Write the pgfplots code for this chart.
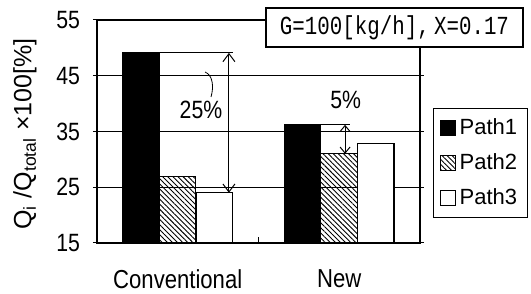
\documentclass[border=0pt]{standalone}
\usepackage{pgfplots}
\pgfplotsset{compat=1.18}
\usepackage{fontspec}
\setmainfont{Liberation Sans}
\newfontfamily\condfont{Liberation Sans}[FakeStretch=0.85]
\newfontfamily\monofont{Liberation Mono}[FakeStretch=0.8]
\usetikzlibrary{patterns.meta,arrows.meta}
\begin{document}
\begin{tikzpicture}
\path[use as bounding box] (0pt,0pt) rectangle (265.5pt,147pt);
\begin{axis}[
  at={(48.5pt,25.5pt)}, anchor=south west,
  scale only axis, width=161.5pt, height=111.5pt,
  xmin=-0.5, xmax=1.5, ymin=15, ymax=55,
  xtick={0,1}, xticklabels={Conventional,New},
  xtick style={draw=none},
  ytick={15,25,35,45,55},
  ymajorgrids, grid style={line width=0.5pt, black},
  axis line style={line width=0.8pt},
  tick align=outside, major tick length=2pt,
  ytick style={line width=0.5pt, black},
  /pgf/number format/assume math mode=true,
  tick label style={font=\condfont\fontsize{12.5}{14}\selectfont},
  yticklabel style={xshift=-3pt},
  xticklabel style={yshift=-8pt, font=\condfont\fontsize{13}{14}\selectfont},
  ylabel={Q\textsubscript{i} /Q\textsubscript{total} ×100[\%]},
  ylabel style={at={(axis description cs:-0.223,0.489)}, anchor=center, font=\fontsize{12.5}{14}\selectfont},
  clip=false,
  legend style={at={(1.040,0.605)}, anchor=north west, draw=black, line width=0.6pt,
    font=\fontsize{11}{13}\selectfont, row sep=4pt, inner xsep=3pt, inner ysep=3pt},
  legend cell align=left,
  legend image code/.code={\draw[#1, line width=0.5pt] (0pt,-3.8pt) rectangle (7.6pt,3.8pt);},
]
\addplot[ybar, bar width=0.226, bar shift=-0.226, fill=black, draw=black, line width=0.5pt]
  coordinates {(0,49.1) (1,36.2)};
\addlegendentry{Path1}
\addplot[ybar, bar width=0.226, bar shift=0, draw=black, line width=0.5pt,
  pattern={Lines[angle=-45,distance=1.8pt,line width=0.45pt]}]
  coordinates {(0,26.9) (1,31.0)};
\addlegendentry{Path2}
\addplot[ybar, bar width=0.226, bar shift=0.226, fill=white, draw=black, line width=0.6pt]
  coordinates {(0,24.0) (1,32.8)};
\addlegendentry{Path3}
% annotations
\draw[line width=0.5pt] (axis cs:-0.11,49.1) -- (axis cs:0.34,49.1);
\draw[line width=0.5pt, {Straight Barb[length=4pt,width=6pt]}-{Straight Barb[length=4pt,width=6pt]}]
  (axis cs:0.317,49.1) -- (axis cs:0.317,24.0);
\draw[line width=0.4pt] (axis cs:0.169,45.67) .. controls (axis cs:0.218,45.1) and (axis cs:0.224,43.0) .. (axis cs:0.206,41.19);
\node[font=\condfont\fontsize{12.5}{14}\selectfont] at (axis cs:0.144,38.9) {25\%};
\draw[line width=0.5pt] (axis cs:0.887,36.2) -- (axis cs:1.066,36.2);
\draw[line width=0.5pt, {Straight Barb[length=3pt,width=5pt]}-{Straight Barb[length=3pt,width=5pt]}]
  (axis cs:1.036,36.2) -- (axis cs:1.036,31.0);
\node[font=\condfont\fontsize{12.5}{14}\selectfont] at (axis cs:1.04,40.65) {5\%};
\draw[line width=0.5pt] (axis cs:0.5,15) -- (axis cs:0.5,16.1);
\end{axis}
\node[draw=black, line width=0.7pt, fill=white, minimum width=128.5pt, minimum height=19.5pt, inner sep=0pt,
  font=\monofont\fontsize{13}{14}\selectfont] at (197.25pt,133.25pt) {G=100[kg/h],\,X=0.17};
\end{tikzpicture}
\end{document}
